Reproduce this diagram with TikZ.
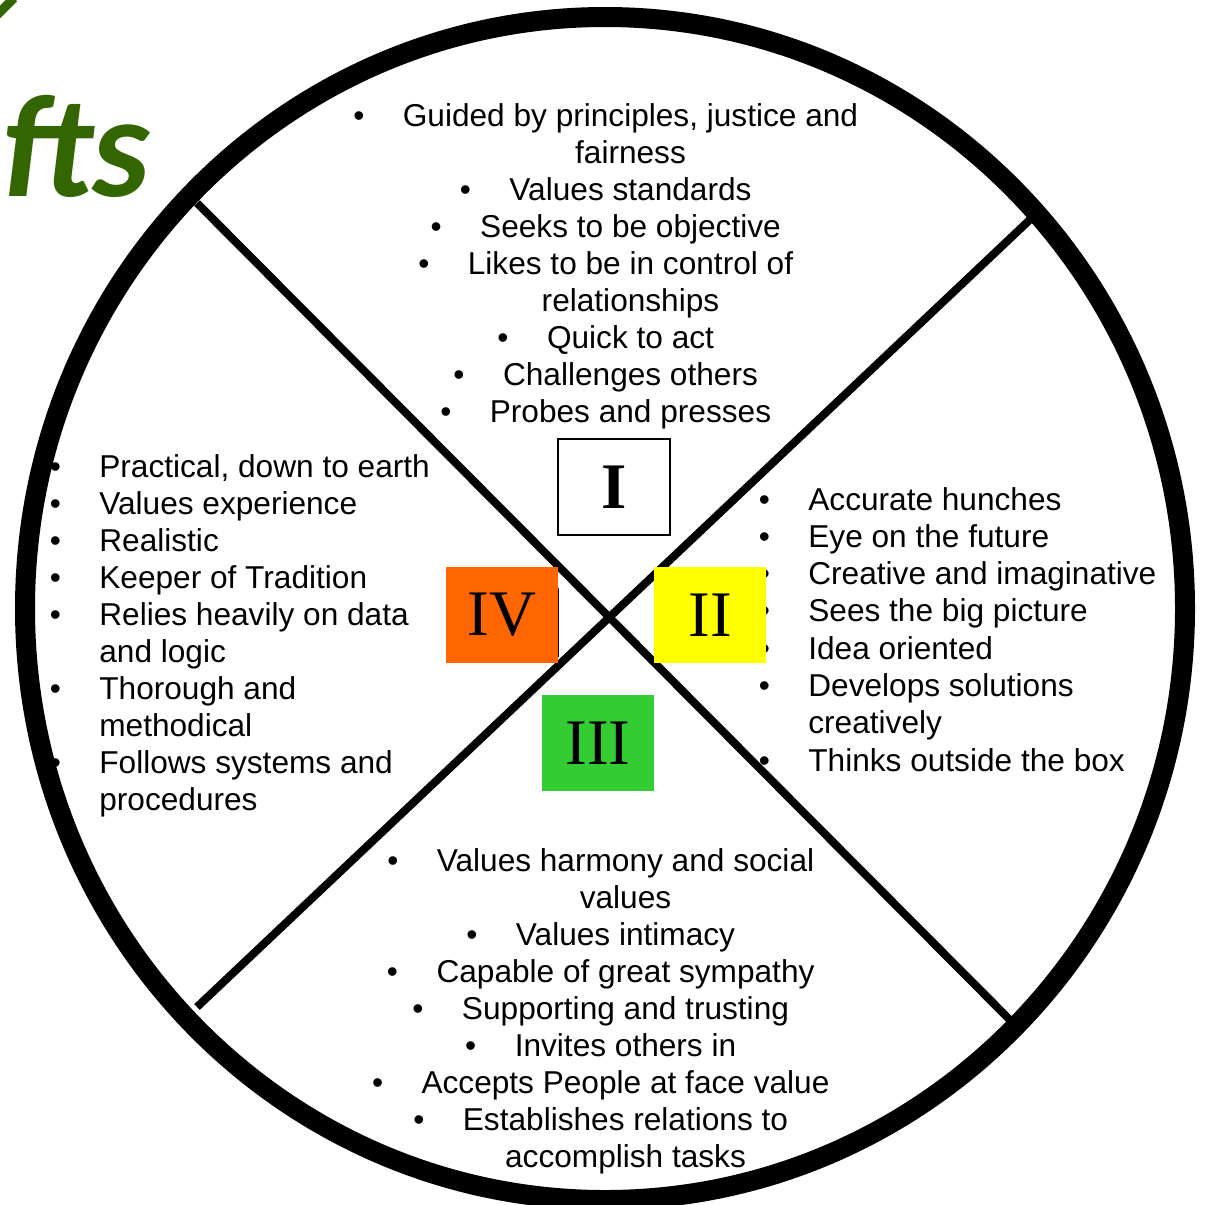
\documentclass[tikz,border=0pt]{standalone}
\usepackage{fontspec}
\setmainfont{Liberation Sans}
\newfontfamily\romanfont{Liberation Serif}
\newfontfamily\titlefont{Carlito}
\usepackage{tikz}
\usetikzlibrary{positioning}

\definecolor{ivorange}{RGB}{255,102,0}
\definecolor{iiyellow}{RGB}{255,255,0}
\definecolor{iiigreen}{RGB}{51,204,51}
\definecolor{titlegreen}{RGB}{51,102,0}

% bullet hanging left of an item
\newcommand\itm{\llap{\textbullet\hspace{0.77cm}}}

\tikzset{
	trait/.style={
		font=\fontsize{18}{21}\selectfont,
		inner sep=0pt
	},
	numbox/.style={
		minimum width=2.24cm,
		minimum height=1.92cm,
		inner sep=0pt,
		font=\romanfont\fontsize{37}{40}\selectfont
	},
	rim/.style={line width=0.4cm},
	divider/.style={line width=0.16cm}
}

\begin{document}
\begin{tikzpicture}[x=0.02cm, y=-0.02cm]
		\useasboundingbox (0,0) rectangle (1209,1204);
		
		% title, running off the page
		\node[font=\titlefont\bfseries\itshape\fontsize{83}{86}\selectfont, text=titlegreen, anchor=base east, inner sep=0pt] (title) at (150,196) {ifts};
		\draw[titlegreen, line width=0.18cm] (-4,16) -- (14,-2);
		
		% trait lists, one per quadrant
		\foreach \b/\txt [count=\i] in {1/{Guided by principles, justice and}, 0/fairness, 1/Values standards, 1/Seeks to be objective, 1/Likes to be in control of, 0/relationships, 1/Quick to act, 1/Challenges others, 1/Probes and presses} {
			\node[trait, anchor=base] (top-\i) at (630.5, {126+37.1*(\i-1)}) {\ifnum\b=1 \itm\fi\txt};
		}
		\foreach \b/\txt [count=\i] in {1/Accurate hunches, 1/Eye on the future, 1/Creative and imaginative, 1/Sees the big picture, 1/Idea oriented, 1/Develops solutions, 0/creatively, 1/Thinks outside the box} {
			\node[trait, anchor=base west] (right-\i) at (808, {510+37.3*(\i-1)}) {\ifnum\b=1 \itm\fi\txt};
		}
		\foreach \b/\txt [count=\i] in {1/Values harmony and social, 0/values, 1/Values intimacy, 1/Capable of great sympathy, 1/Supporting and trusting, 1/Invites others in, 1/Accepts People at face value, 1/Establishes relations to, 0/accomplish tasks} {
			\node[trait, anchor=base] (bot-\i) at (625.5, {871+37.1*(\i-1)}) {\ifnum\b=1 \itm\fi\txt};
		}
		\foreach \b/\txt [count=\i] in {1/{Practical, down to earth}, 1/Values experience, 1/Realistic, 1/Keeper of Tradition, 1/Relies heavily on data, 0/and logic, 1/Thorough and, 0/methodical, 1/Follows systems and, 0/procedures} {
			\node[trait, anchor=base west] (left-\i) at (99, {477+37.1*(\i-1)}) {\ifnum\b=1 \itm\fi\txt};
		}
		
		% wheel and its two dividers
		\coordinate (hub) at (605,608.5);
		\coordinate (nw) at (197,203);
		\coordinate (se) at (1015,1025);
		\coordinate (ne) at (1037,213);
		\coordinate (sw) at (197,1007);
		\draw[divider] (nw) -- (se);
		\draw[divider] (ne) -- (sw);
		\draw[rim] (hub) ellipse [x radius=580, y radius=591.5];
		
		% quadrant numbers
		\node[numbox, draw, line width=0.03cm] (q1) at (614,487) {\bfseries I};
		\node[numbox, fill=ivorange] (q4) at (502,615) {IV};
		\node[numbox, fill=iiyellow] (q2) at (710,615) {II};
		\node[numbox, fill=iiigreen] (q3) at (598,743) {III};
		\draw[line width=0.03cm] ([yshift=-0.42cm]q4.north east) -- ([yshift=0.12cm]q4.south east);
\end{tikzpicture}
\end{document}
